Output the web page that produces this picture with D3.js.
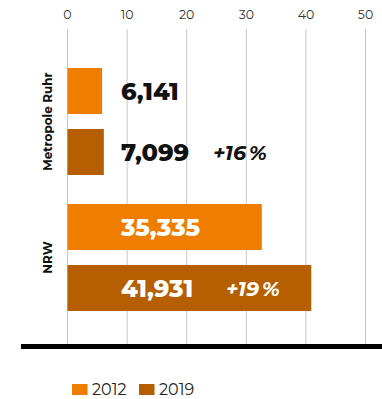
<!DOCTYPE html>
<html>
<head>
<meta charset="utf-8">
<script src="https://cdn.jsdelivr.net/npm/d3@7"></script>
<style>
  body { margin: 0; background: #fff; }
  svg { display: block; font-family: "Montserrat", "Open Sans", sans-serif; }
</style>
</head>
<body>
<svg id="chart" width="382" height="399"></svg>
<script>
// chart data
const categories = ["Metropole Ruhr", "NRW"];
const years = ["2012", "2019"];
const barValues = {
    "Metropole Ruhr": [5.8, 6.1],
    "NRW": [32.6, 40.9]
};
const valueLabels = {
    "Metropole Ruhr": ["6,141", "7,099"],
    "NRW": ["35,335", "41,931"]
};
const changeLabels = ["+16\u2009%", "+19\u2009%"];
const xTicks = [0, 10, 20, 30, 40, 50];
const colors = ["#EF7D00", "#B55F00"];

const svg = d3.select("#chart");

const x = d3.scaleLinear().domain([0, 50]).range([67.5, 365.5]);
const y0 = d3.scaleBand().domain(categories).range([68, 311]).paddingInner(29 / 136);
const y1 = d3.scaleBand().domain(years).range([0, y0.bandwidth()]).paddingInner(15 / 61);
const color = d3.scaleOrdinal().domain(years).range(colors);

// grid lines + top tick labels
svg.append("g")
    .selectAll("line")
    .data(xTicks)
    .join("line")
    .attr("x1", d => x(d))
    .attr("x2", d => x(d))
    .attr("y1", 29)
    .attr("y2", 345)
    .attr("stroke", "#c8c8c8")
    .attr("stroke-width", 1);

svg.append("g")
    .selectAll("text")
    .data(xTicks)
    .join("text")
    .attr("x", d => x(d))
    .attr("y", 19)
    .attr("text-anchor", "middle")
    .attr("font-size", 12.5)
    .attr("fill", "#333")
    .text(d => d);

// bars
const groups = svg.append("g")
    .selectAll("g")
    .data(categories)
    .join("g")
    .attr("transform", c => `translate(0,${y0(c)})`);

groups.selectAll("rect")
    .data(c => years.map((yr, i) => ({ c, yr, v: barValues[c][i] })))
    .join("rect")
    .attr("x", x(0))
    .attr("y", d => y1(d.yr))
    .attr("width", d => x(d.v) - x(0))
    .attr("height", y1.bandwidth())
    .attr("fill", d => color(d.yr));

// value labels: black next to the short bars, white inside the long ones
groups.selectAll("text.val")
    .data(c => years.map((yr, i) => ({ c, yr, label: valueLabels[c][i] })))
    .join("text")
    .attr("class", "val")
    .attr("x", 121)
    .attr("y", d => y1(d.yr) + y1.bandwidth() / 2 + 8.5)
    .attr("font-size", 24)
    .attr("font-weight", 800)
    .attr("fill", d => d.c === "NRW" ? "#fff" : "#111")
    .text(d => d.label);

// change labels on the 2019 bars
groups.append("text")
    .attr("x", c => c === "NRW" ? 226 : 213)
    .attr("y", y1("2019") + y1.bandwidth() / 2 + 7.5)
    .attr("font-size", 20.5)
    .attr("font-weight", 700)
    .attr("font-style", "italic")
    .attr("fill", c => c === "NRW" ? "#fff" : "#111")
    .text((c, i) => changeLabels[i]);

// category labels, rotated
svg.append("g")
    .selectAll("text")
    .data(categories)
    .join("text")
    .attr("transform", c => `translate(52,${y0(c) + y0.bandwidth() / 2}) rotate(-90)`)
    .attr("text-anchor", "middle")
    .attr("font-size", 12)
    .attr("font-weight", 700)
    .attr("fill", "#111")
    .text(c => c);

// thick baseline
svg.append("line")
    .attr("x1", 21)
    .attr("x2", 382)
    .attr("y1", 346.5)
    .attr("y2", 346.5)
    .attr("stroke", "#000")
    .attr("stroke-width", 5);

// legend
const legendX = [72, 139];
const legend = svg.append("g")
    .selectAll("g")
    .data(years)
    .join("g")
    .attr("transform", (d, i) => `translate(${legendX[i]},384)`);

legend.append("rect")
    .attr("width", 15.5)
    .attr("height", 11)
    .attr("fill", d => color(d));

legend.append("text")
    .attr("x", 20)
    .attr("y", 11)
    .attr("font-size", 16)
    .attr("fill", "#222")
    .text(d => d);
</script>
</body>
</html>
